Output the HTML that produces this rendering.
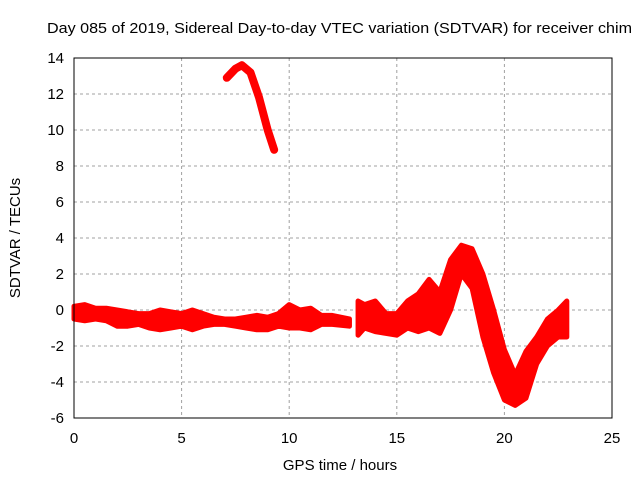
<!DOCTYPE html>
<html><head><meta charset="utf-8"><style>
body{margin:0;background:#fff;}
svg{display:block;font-family:"Liberation Sans",sans-serif;}
</style></head><body>
<svg id="chart" width="640" height="480" xmlns="http://www.w3.org/2000/svg">
<rect width="640" height="480" fill="#fff"/>
<text x="47" y="33" font-size="15" textLength="585" lengthAdjust="spacingAndGlyphs" fill="#000">Day 085 of 2019, Sidereal Day-to-day VTEC variation (SDTVAR) for receiver chim</text>
<g id="grid"></g><g id="ticks"></g><g id="marks"></g>
<rect x="74" y="58" width="538" height="360" fill="none" stroke="#000" stroke-width="1"/>
<text x="340" y="470" font-size="15" text-anchor="middle">GPS time / hours</text>
<text x="20" y="238" font-size="15" text-anchor="middle" transform="rotate(-90 20 238)">SDTVAR / TECUs</text>
</svg>
<script>
const xTicks=[0,5,10,15,20,25];
const yTicks=[-6,-4,-2,0,2,4,6,8,10,12,14];
const bandTimes=[0,0.5,1,1.5,2,2.5,3,3.5,4,4.5,5,5.5,6,6.5,7,7.5,8,8.5,9,9.5,10,10.5,11,11.5,12,12.8];
const bandLow=[-0.5,-0.6,-0.5,-0.6,-0.9,-0.9,-0.8,-1.0,-1.1,-1.0,-0.9,-1.1,-0.9,-0.8,-0.8,-0.9,-1.0,-1.1,-1.1,-0.9,-1.0,-1.0,-1.1,-0.8,-0.8,-0.9];
const bandHigh=[0.2,0.3,0.1,0.1,0,-0.1,-0.2,-0.2,0,-0.1,-0.2,0,-0.2,-0.4,-0.5,-0.5,-0.4,-0.3,-0.4,-0.2,0.3,0,0.1,-0.3,-0.3,-0.5];
const lateTimes=[13.2,13.5,14,14.5,15,15.5,16,16.5,17,17.5,18,18.5,19,19.5,20,20.5,21,21.5,22,22.5,22.9];
const lateLow=[-1.4,-1.0,-1.2,-1.3,-1.4,-1.0,-1.2,-1.0,-1.3,0,2.0,1.2,-1.5,-3.5,-5.0,-5.3,-4.9,-3.0,-2.0,-1.5,-1.5];
const lateHigh=[0.5,0.3,0.5,-0.2,-0.2,0.5,0.9,1.7,1.0,2.8,3.6,3.4,2.0,0,-2.2,-3.6,-2.3,-1.5,-0.5,0,0.5];
const upTimes=[7.1,7.5,7.8,8.2,8.6,9.0,9.3];
const upVals=[12.9,13.4,13.6,13.2,11.8,10.0,8.9];
const X=t=>74+t*538/25, Y=v=>418-(v+6)*18;
const NS='http://www.w3.org/2000/svg';
function mk(tag,attrs,parent){const e=document.createElementNS(NS,tag);for(const k in attrs)e.setAttribute(k,attrs[k]);document.getElementById(parent).appendChild(e);return e;}
xTicks.forEach(t=>{
 if(t>0&&t<25){const g=mk('line',{x1:X(t),x2:X(t),y1:58,y2:418,stroke:'#a0a0a0','stroke-dasharray':'3,3'},'grid');
 
 }
 const l=mk('text',{x:X(t),y:443,'font-size':15,'text-anchor':'middle'},'ticks');l.textContent=t;
 
 
});
yTicks.forEach(v=>{
 if(v>-6&&v<14){const g=mk('line',{x1:74,x2:612,y1:Y(v),y2:Y(v),stroke:'#a0a0a0','stroke-dasharray':'3,3'},'grid');
 
 }
 const l=mk('text',{x:64,y:Y(v)+5,'font-size':15,'text-anchor':'end'},'ticks');l.textContent=v;
 
 
});
function band(ts,lo,hi,name){
 let p=ts.map((t,i)=>X(t)+','+Y(hi[i])).concat(ts.map((t,i)=>X(t)+','+Y(lo[i])).reverse());
 const e=mk('polygon',{points:p.join(' '),fill:'#f00',stroke:'#f00','stroke-width':5,'stroke-linejoin':'round'},'marks');
 
 
}
band(bandTimes,bandLow,bandHigh,'sdtvar-band-early');
band(lateTimes,lateLow,lateHigh,'sdtvar-band-late');
const up=mk('polyline',{points:upTimes.map((t,i)=>X(t)+','+Y(upVals[i])).join(' '),fill:'none',stroke:'#f00','stroke-width':8,'stroke-linejoin':'round','stroke-linecap':'round'},'marks');


</script>
</body></html>
